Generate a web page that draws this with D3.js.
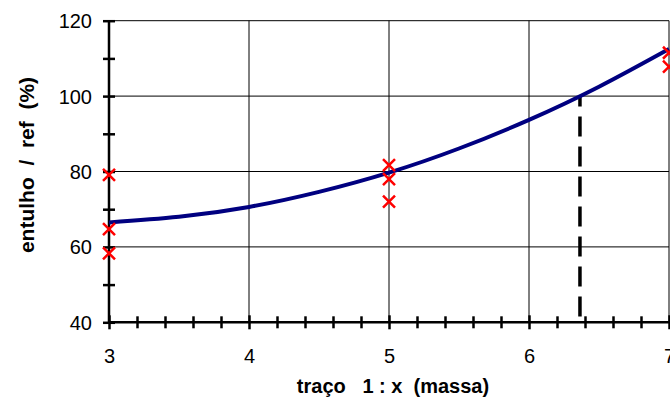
<!DOCTYPE html>
<html>
<head>
<meta charset="utf-8">
<script src="https://cdn.jsdelivr.net/npm/d3@7"></script>
<style>
  html, body { margin: 0; padding: 0; background: #fff; }
  svg { display: block; }
  text { font-family: "Liberation Sans", Arial, sans-serif; fill: #000; }
</style>
</head>
<body>
<svg id="chart" width="670" height="399"></svg>
<script>
// Measured points (x = traço 1:x, y = entulho / ref %)
const measX = [3, 3, 3, 5, 5, 5, 7, 7];
const measY = [79.1, 64.7, 58.3, 81.7, 78.0, 72.0, 111.5, 107.8];

// Fitted trend curve, sampled along x
const fitX = [3, 3.5, 4, 4.5, 5, 5.5, 6, 6.5, 7];
const fitY = [66.5, 68.0, 70.6, 74.6, 79.7, 86.1, 93.7, 102.5, 112.5];

// Reference level and the x where the curve reaches it
const refLevel = 100;
const refX = 6.364;

// Axis ticks
const xMajor = [3, 4, 5, 6, 7];
const yMajor = [40, 60, 80, 100, 120];

const svg = d3.select("#chart");
const plot = { left: 109, right: 669, top: 20.7, bottom: 322.3 };

const x = d3.scaleLinear().domain([3, 7]).range([plot.left, plot.right]);
const y = d3.scaleLinear().domain([40, 120]).range([plot.bottom, plot.top]);

// grid lines
const grid = svg.append("g").attr("stroke", "#000").attr("stroke-width", 1);
grid.selectAll("line.h").data(yMajor.filter(v => v > 40)).join("line")
  .attr("class", "h")
  .attr("x1", plot.left).attr("x2", plot.right)
  .attr("y1", d => y(d)).attr("y2", d => y(d));
grid.selectAll("line.v").data(xMajor.filter(v => v > 3)).join("line")
  .attr("class", "v")
  .attr("y1", plot.top).attr("y2", plot.bottom)
  .attr("x1", d => x(d)).attr("x2", d => x(d));

// axes with ticks crossing the axis line
const yAxisG = svg.append("g").attr("transform", `translate(${plot.left},0)`);
yAxisG.call(d3.axisLeft(y).tickValues(d3.range(40, 121, 10)).tickSize(6).tickFormat(""));
yAxisG.selectAll(".tick line").attr("x1", 6).attr("x2", -6).attr("stroke-width", 2.5);
yAxisG.select(".domain").attr("d", `M0,${plot.bottom}V${plot.top}`).attr("stroke-width", 2.5);
yAxisG.selectAll(".tick").filter(d => yMajor.includes(d)).append("text")
  .attr("x", -17).attr("dy", "0.35em").attr("text-anchor", "end")
  .style("font-size", "20px").text(d => d);

const xAxisG = svg.append("g").attr("transform", `translate(0,${plot.bottom})`);
xAxisG.call(d3.axisBottom(x).tickValues(d3.range(3, 7.001, 0.2).map(v => +v.toFixed(1))).tickSize(6).tickFormat(""));
xAxisG.selectAll(".tick line")
  .attr("y1", d => xMajor.includes(d) ? -7 : -6)
  .attr("y2", d => xMajor.includes(d) ? 7 : 6)
  .attr("stroke-width", 2.5);
xAxisG.select(".domain").attr("d", `M${plot.left},0H${plot.right}`).attr("stroke-width", 2.5);
xAxisG.selectAll(".tick").filter(d => xMajor.includes(d)).append("text")
  .attr("y", 41).attr("text-anchor", "middle")
  .style("font-size", "20px").text(d => d);

// dashed drop line from the curve at the reference level
svg.append("line")
  .attr("x1", x(refX)).attr("x2", x(refX))
  .attr("y1", y(refLevel)).attr("y2", y(40))
  .attr("stroke", "#000").attr("stroke-width", 3.5)
  .attr("stroke-dasharray", "20,10").attr("stroke-dashoffset", 9.6);

// trend curve
svg.append("path")
  .datum(fitX.map((v, i) => [v, fitY[i]]))
  .attr("fill", "none").attr("stroke", "#000080").attr("stroke-width", 4)
  .attr("d", d3.line().x(d => x(d[0])).y(d => y(d[1])).curve(d3.curveNatural));

// measured points as red crosses
const s = 6;
svg.append("g").selectAll("path")
  .data(measX.map((v, i) => [v, measY[i]]))
  .join("path")
  .attr("transform", d => `translate(${x(d[0])},${y(d[1])})`)
  .attr("d", `M${-s},${-s}L${s},${s}M${-s},${s}L${s},${-s}`)
  .attr("stroke", "#ff0000").attr("stroke-width", 2.5).attr("fill", "none");

// axis titles
svg.append("text")
  .attr("x", (plot.left + plot.right) / 2 + 4).attr("y", 393)
  .attr("text-anchor", "middle")
  .style("font-size", "20px").style("font-weight", "bold")
  .style("white-space", "pre")
  .text("traço   1 : x  (massa)");

svg.append("text")
  .attr("transform", "translate(34,165) rotate(-90)")
  .attr("text-anchor", "middle")
  .style("font-size", "21px").style("font-weight", "bold")
  .style("white-space", "pre")
  .text("entulho  /  ref  (%)");
</script>
</body>
</html>
